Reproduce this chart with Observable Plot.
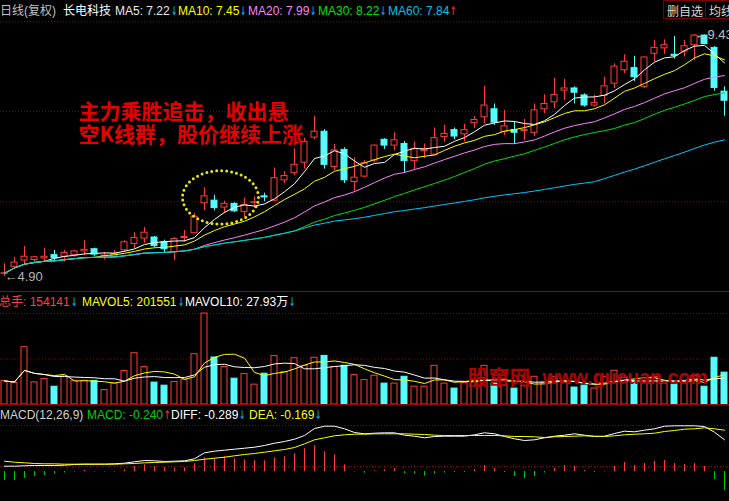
<!DOCTYPE html>
<html><head><meta charset="utf-8">
<script src="https://cdn.jsdelivr.net/npm/d3@7"></script>
<script src="https://cdn.jsdelivr.net/npm/@observablehq/plot@0.6"></script>
<style>
html,body{margin:0;padding:0;background:#000;}
#chart{position:relative;width:729px;height:501px;background:#000;overflow:hidden;font-family:"Liberation Sans",Arial,"Noto Sans CJK SC",sans-serif;font-size:12px;}
#chart svg{position:absolute;left:0;}
.row{position:absolute;left:0;width:729px;height:14px;}
.row > span{position:absolute;top:0;white-space:nowrap;line-height:14px;font-size:12px;}
.row .ar{font-family:"DejaVu Sans",sans-serif;font-size:12px;font-weight:bold;display:inline-block;transform:scaleX(0.6);transform-origin:left center;margin-left:1px;}
.sep{position:absolute;left:0;width:729px;height:1px;background:#a00000;}
.btn{position:absolute;top:0;height:19px;border:1px solid #7a0000;color:#d8d8d8;font-family:"Noto Sans CJK SC",sans-serif;font-size:12px;line-height:19px;text-align:left;padding-left:3px;box-sizing:border-box;background:#000;}
</style></head>
<body><div id="chart"></div>
<script>
// ---------- data ----------
const open  = [4.95,5.08,5.20,5.21,5.24,5.30,5.27,5.30,5.37,5.41, 5.27,5.27,5.39,5.51,5.61,5.63,5.54,5.35,5.62,5.71, 6.27,6.32,6.19,6.26,6.11,6.28,6.40,6.32,6.70,6.84, 7.03,7.50,7.61,6.95,7.27,6.67,6.77,7.07,7.46,7.35, 7.38,7.06,7.25,7.18,7.51,7.64,7.56,7.77,7.88,8.03, 7.61,7.64,7.62,7.59,8.03,8.16,8.38,8.42,8.29,8.10, 8.28,8.51,8.76,8.80,8.45,9.07,9.17,9.05,9.11,9.23, 9.41,9.18,8.36];
const high  = [5.14,5.26,5.46,5.27,5.43,5.39,5.39,5.39,5.57,5.43, 5.35,5.39,5.57,5.72,5.82,5.65,5.58,5.63,5.76,6.08, 6.56,6.42,6.31,6.28,6.37,6.39,6.46,6.93,6.86,7.29, 7.49,7.90,7.65,7.37,7.31,7.12,7.07,7.36,7.48,7.59, 7.43,7.42,7.38,7.68,7.73,7.68,7.75,7.89,8.46,8.13, 8.01,7.79,7.84,8.13,8.30,8.61,8.59,8.45,8.32,8.29, 8.63,8.88,9.05,9.02,9.01,9.32,9.33,9.39,9.32,9.43, 9.42,9.20,8.45];
const low   = [4.90,5.03,5.12,5.14,5.16,5.18,5.17,5.26,5.29,5.27, 5.21,5.24,5.35,5.42,5.52,5.44,5.35,5.20,5.54,5.70, 6.13,6.13,6.08,6.10,6.01,6.18,6.30,6.30,6.64,6.79, 6.91,7.46,6.91,6.88,6.64,6.48,6.75,7.03,7.28,7.25, 6.83,6.90,7.11,7.15,7.42,7.46,7.42,7.67,7.76,7.73, 7.54,7.37,7.45,7.52,7.95,8.04,8.19,8.13,8.07,8.07, 8.14,8.42,8.70,8.55,8.42,8.92,9.06,8.97,9.01,8.94, 9.24,8.37,7.90];
const close = [4.96,5.16,5.27,5.26,5.27,5.24,5.34,5.37,5.40,5.31, 5.29,5.32,5.54,5.62,5.72,5.47,5.41,5.60,5.64,6.02, 6.40,6.18,6.26,6.12,6.24,6.29,6.38,6.74,6.78,6.99, 7.42,7.61,6.99,7.26,6.70,6.75,7.02,7.35,7.35,7.45, 7.06,7.29,7.28,7.49,7.57,7.52,7.64,7.83,8.10,7.78, 7.71,7.59,7.64,8.01,8.13,8.30,8.42,8.34,8.10,8.15, 8.46,8.83,8.92,8.63,9.00,9.18,9.23,9.03,9.21,9.41, 9.25,8.43,8.19];
const volume = [113600,104000,277000,107000,123000,86000,136000,115000,115000,114000, 70000,102000,162000,248000,181000,106000,91000,109000,120000,243000, 440000,227000,181000,125000,147000,96000,149000,234000,157000,224000, 187000,226000,235000,181000,187000,142000,118000,139000,101000,101000, 134000,86000,86000,187000,101000,77000,104000,115000,187000,101000, 91000,77000,91000,134000,106000,134000,106000,82000,91000,77000, 134000,163000,130000,115000,106000,134000,101000,96000,110000,139000, 86000,226000,154141];
const diffLine = [0.053,0.053,0.057,0.06,0.06,0.06,0.063,0.07,0.073,0.073, 0.073,0.077,0.083,0.097,0.11,0.107,0.10,0.103,0.107,0.127, 0.187,0.203,0.213,0.223,0.233,0.243,0.26,0.283,0.30,0.323, 0.36,0.43,0.453,0.453,0.427,0.39,0.377,0.383,0.387,0.387, 0.363,0.353,0.337,0.35,0.353,0.353,0.353,0.367,0.387,0.377, 0.35,0.327,0.31,0.317,0.337,0.353,0.363,0.377,0.363,0.35, 0.353,0.38,0.403,0.397,0.413,0.427,0.453,0.457,0.457,0.457, 0.45,0.393,0.317];
const deaLine = [0.103,0.093,0.087,0.08,0.077,0.077,0.073,0.073,0.073,0.073, 0.073,0.073,0.077,0.08,0.087,0.09,0.093,0.097,0.10,0.11, 0.123,0.133,0.143,0.157,0.17,0.18,0.193,0.207,0.22,0.24, 0.277,0.317,0.337,0.357,0.367,0.373,0.373,0.377,0.377,0.377, 0.377,0.373,0.37,0.363,0.36,0.36,0.36,0.36,0.36,0.36, 0.357,0.35,0.35,0.347,0.34,0.347,0.35,0.353,0.357,0.353, 0.35,0.357,0.367,0.373,0.377,0.383,0.40,0.41,0.423,0.427, 0.437,0.427,0.413];
const macdBar = [-0.09,-0.09,-0.07,-0.05,-0.04,-0.025,-0.015,-0.007,0.013,-0.005, -0.005,-0.005,0.017,0.047,0.067,0.047,0.037,0.027,0.037,0.077, 0.137,0.127,0.147,0.127,0.117,0.107,0.107,0.137,0.147,0.177, 0.227,0.257,0.197,0.167,0.067,-0.005,-0.017,0.007,0.017,0.03, -0.02,-0.025,-0.045,-0.025,-0.015,-0.01,-0.01,0.02,0.06,0.03, -0.01,-0.05,-0.07,-0.05,-0.015,0.03,0.06,0.05,0.01,-0.01, -0.005,0.05,0.09,0.06,0.08,0.10,0.11,0.08,0.07,0.08, 0.05,-0.08,-0.19];
const maPeriods = [5, 10, 20, 30, 60];
const volMaPeriods = [5, 10];
const priceGrid = [6.30, 7.99, 9.67];
const volGrid = [220000, 440000];
const macdGrid = [0.05, 0.46];
const noteLines = ["主力乘胜追击，收出悬", "空K线群，股价继续上涨"];
const watermark = ["股窜网", "www.gucuan.com"];

// ---------- styling ----------
const RED = "#ff3c3c", CYAN = "#54fcfc", GREEN = "#00c800", GRID = "#960000";
const maColors = ["#ffffff", "#ffff00", "#ff80ff", "#00e000", "#00c8ff"];
const volMaColors = ["#ffff00", "#ffffff"];

const movAvg = (arr, k) => arr.map((_, i) => d3.mean(arr.slice(Math.max(0, i - k + 1), i + 1)));
const rows = open.map((o, i) => ({
  i, o, h: high[i], l: low[i], c: close[i], up: close[i] >= o,
  v: volume[i], diff: diffLine[i], dea: deaLine[i], macd: macdBar[i]
}));
const priceMA = maPeriods.map(k => movAvg(close, k));
const volMA = volMaPeriods.map(k => movAvg(volume, k));

const X = {domain: [0, 72], range: [4, 724], axis: null};
const common = {width: 729, margin: 0, color: {type: "identity"}, style: {background: "transparent", overflow: "visible"}};

// ---------- price panel ----------
const hiI = d3.maxIndex(high), loI = d3.minIndex(low);
const ell = d3.range(0, 73).map(t => {
  const a = t / 72 * 2 * Math.PI;
  return {x: 21.6 + 3.8 * Math.cos(a), y: 6.38 + 0.50 * Math.sin(a)};
});
const price = Plot.plot({
  ...common, height: 291,
  x: X,
  y: {domain: [4.90, 9.43], range: [276, 34], axis: null},
  marks: [
    Plot.ruleY(priceGrid, {stroke: GRID, strokeDasharray: "1,2"}),
    Plot.ruleX(rows, {x: "i", y1: "l", y2: "h", stroke: d => d.up ? RED : CYAN}),
    Plot.rect(rows, {x1: d => d.i - 0.3, x2: d => d.i + 0.3,
      y1: d => Math.min(d.o, d.c), y2: d => Math.max(d.o, d.c),
      fill: d => d.up ? "#000000" : CYAN, stroke: d => d.up ? RED : CYAN}),
    ...priceMA.map((m, j) => Plot.line(rows, {x: "i", y: d => m[d.i], stroke: maColors[j], strokeWidth: 1})),
    Plot.line(ell, {x: "x", y: "y", stroke: "#e8e800", strokeWidth: 3, strokeDasharray: "0,5", strokeLinecap: "round"}),
    Plot.text(noteLines, {x: 7.4, y: (d, k) => [7.97, 7.54][k], text: d => d, textAnchor: "start",
      fill: "#e60000", fontSize: 21, fontWeight: "bold", fontFamily: "Noto Sans CJK SC"}),
    Plot.text([hiI], {x: d => d, y: d => high[d], text: d => "←" + high[d].toFixed(2), textAnchor: "start",
      fill: "#c0c0c0", fontSize: 13, fontFamily: "Liberation Sans"}),
    Plot.text([loI], {x: d => d, y: d => low[d], text: d => "←" + low[d].toFixed(2), textAnchor: "start",
      fill: "#b4b4b4", fontSize: 13, fontFamily: "Liberation Sans"})
  ]
});
price.style.top = "0px";

// ---------- volume panel ----------
const vol = Plot.plot({
  ...common, height: 113,
  x: X,
  y: {domain: [0, 440000], range: [112, 21], axis: null},
  marks: [
    Plot.ruleY(volGrid, {stroke: GRID, strokeDasharray: "1,2"}),
    Plot.rect(rows, {x1: d => d.i - 0.3, x2: d => d.i + 0.3, y1: 0, y2: "v",
      fill: d => d.up ? "#000000" : CYAN, stroke: d => d.up ? RED : CYAN}),
    ...volMA.map((m, j) => Plot.line(rows, {x: "i", y: d => m[d.i], stroke: volMaColors[j], strokeWidth: 1})),
    Plot.text([watermark[0]], {frameAnchor: "top-left", dx: 467, dy: 78, text: d => d, textAnchor: "start",
      fill: "#b40000", fontSize: 21, fontWeight: "bold", fontFamily: "Noto Sans CJK SC"}),
    Plot.text([watermark[1]], {frameAnchor: "top-left", dx: 542, dy: 78, text: d => d, textAnchor: "start",
      fill: "#b40000", fontSize: 19.5, fontWeight: "bold", fontFamily: "Liberation Sans"})
  ]
});
vol.style.top = "292px";

// ---------- MACD panel ----------
const macd = Plot.plot({
  ...common, height: 96,
  x: X,
  y: {domain: [-0.30, 0.66], range: [96, 0], axis: null},
  marks: [
    Plot.ruleY(macdGrid, {stroke: GRID, strokeDasharray: "1,2"}),
    Plot.ruleX(rows, {x: "i", y1: 0, y2: "macd", stroke: d => d.macd >= 0 ? RED : GREEN}),
    Plot.line(rows, {x: "i", y: "diff", stroke: "#ffffff", strokeWidth: 1}),
    Plot.line(rows, {x: "i", y: "dea", stroke: "#ffff00", strokeWidth: 1})
  ]
});
macd.style.top = "405px";

const chart = document.getElementById("chart");
chart.append(price, vol, macd);

// ---------- headers ----------
function row(top, items) {
  const r = document.createElement("div");
  r.className = "row"; r.style.top = top + "px";
  for (const [left, text, color, arrow, arrowColor] of items) {
    const s = document.createElement("span");
    s.style.left = left + "px"; s.style.color = color; s.textContent = text;
    if (arrow) {
      const a = document.createElement("span");
      a.className = "ar"; a.style.color = arrowColor; a.textContent = arrow;
      s.appendChild(a);
    }
    r.appendChild(s);
  }
  chart.appendChild(r);
}
const DN = "#00a8e0", UPC = "#ff2020";
row(4, [[0, "日线(复权)", "#c0c0c0"], [63, "长电科技", "#ffffff"],
  [115, "MA5: 7.22", "#e8e8e8", "↓", DN],
  [178, "MA10: 7.45", "#ffff00", "↓", DN],
  [248, "MA20: 7.99", "#ff80ff", "↓", DN],
  [318, "MA30: 8.22", "#00e000", "↓", DN],
  [388, "MA60: 7.84", "#00c0f0", "↑", UPC]]);
row(295, [[-1, "总手: 154141", "#ff4040", "↓", DN],
  [82, "MAVOL5: 201551", "#ffff00", "↓", DN],
  [185, "MAVOL10: 27.93万", "#ffffff", "↓", DN]]);
row(408, [[0, "MACD(12,26,9)", "#d0d0d0"], [87, "MACD: -0.240", "#00d000", "↑", UPC],
  [171, "DIFF: -0.289", "#ffffff", "↓", DN],
  [249, "DEA: -0.169", "#ffff00", "↓", DN]]);

for (const y of [291, 404]) {
  const s = document.createElement("div"); s.className = "sep"; s.style.top = y + "px"; chart.appendChild(s);
}
for (const [left, w, t] of [[663, 43, "删自选"], [705, 40, "均线"]]) {
  const b = document.createElement("div"); b.className = "btn";
  b.style.left = left + "px"; b.style.width = w + "px"; b.textContent = t; chart.appendChild(b);
}
</script></body></html>
